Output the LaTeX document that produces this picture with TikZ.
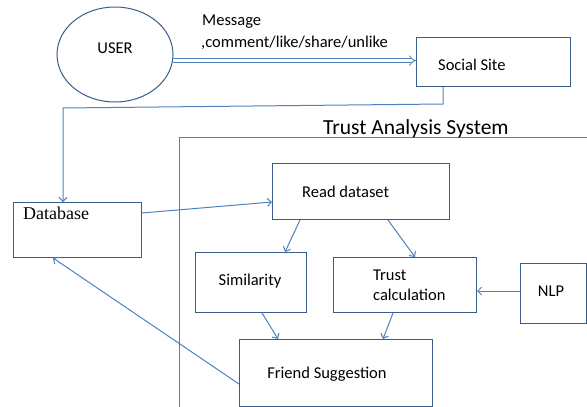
\documentclass[tikz,border=0pt]{standalone}
\usepackage{fontspec}
\setmainfont{Carlito}
\newfontfamily\dbfont{Liberation Serif}
\usetikzlibrary{arrows.meta,shapes.geometric}
\definecolor{lineblue}{HTML}{4F81BD}
\definecolor{boxblue}{HTML}{385D8A}
\begin{document}
\begin{tikzpicture}[x=1pt,y=-1pt,
  box/.style={draw=boxblue, line width=1pt, anchor=north west, inner sep=0pt},
  conn/.style={draw=lineblue, line width=1pt, -{Straight Barb[length=4pt,width=8pt]}},
  txt/.style={font=\fontsize{16.5}{19}\selectfont, text=black, inner sep=0pt}]
\useasboundingbox (0,0) rectangle (587,407);
% frame of the trust analysis system
\draw[lineblue, line width=1pt] (179,407) -- (179,137) -- (587,137);
\node[txt, font=\fontsize{21.5}{24}\selectfont, anchor=base west] (title) at (323,134) {Trust Analysis System};
% shapes
\node[draw=boxblue, line width=1pt, ellipse, minimum width=116pt, minimum height=95pt, inner sep=0pt] (user) at (115,54.5) {};
\node[box, minimum width=154pt, minimum height=49pt] (social) at (416,37) {};
\node[box, minimum width=128pt, minimum height=55pt] (db) at (13,202) {};
\node[box, minimum width=177pt, minimum height=56pt] (read) at (272,163) {};
\node[box, minimum width=111pt, minimum height=60pt] (sim) at (195,252) {};
\node[box, minimum width=143pt, minimum height=55pt] (trust) at (333,257) {};
\node[box, minimum width=66pt, minimum height=60pt] (nlp) at (520,263) {};
\node[box, minimum width=193pt, minimum height=67pt] (friend) at (239,339) {};
% texts
\node[txt] (usertxt) at (115,48) {USER};
\node[txt, anchor=west] (msg1) at (202,22) {Message};
\node[txt, anchor=west] (msg2) at (201,43) {,comment/like/share/unlike};
\node[txt, anchor=west] (socialtxt) at (438,65) {Social Site};
\node[txt, font=\dbfont\fontsize{18}{20}\selectfont, anchor=west] (dbtxt) at (23,213) {Database};
\node[txt, anchor=west] (readtxt) at (302,192) {Read dataset};
\node[txt] (simtxt) at (250,281) {Similarity};
\node[txt, anchor=west] (trusttxt1) at (373,275) {Trust};
\node[txt, anchor=west] (trusttxt2) at (373,295) {calculation};
\node[txt] (nlptxt) at (551,291) {NLP};
\node[txt] (friendtxt) at (327,374) {Friend Suggestion};
% connectors
\draw[draw=lineblue, line width=0.8pt, double=white, double distance=2.8pt, -{Implies}] (user.-6) -- (user.-6 -| social.west);
\draw[conn] ([xshift=27pt]social.south west) -- ++(0,17) -- (63,108) -- ([xshift=50pt]db.north west);
\draw[conn] ([yshift=-11pt]db.north east) -- ([yshift=-39pt]read.north west);
\draw[conn] ([xshift=28pt]read.south west) -- ([xshift=90pt]sim.north west);
\draw[conn] ([xshift=116pt]read.south west) -- ([xshift=82pt]trust.north west);
\draw[conn] ([yshift=-28pt]nlp.north west) -- ([yshift=-28pt]nlp.north west -| trust.east);
\draw[conn] ([xshift=67pt]sim.south west) -- ([xshift=39pt]friend.north west);
\draw[conn] ([xshift=60pt]trust.south west) -- ([xshift=144pt]friend.north west);
\draw[conn] ([yshift=-45pt]friend.north west) -- ([xshift=40pt]db.south west);
\end{tikzpicture}
\end{document}
